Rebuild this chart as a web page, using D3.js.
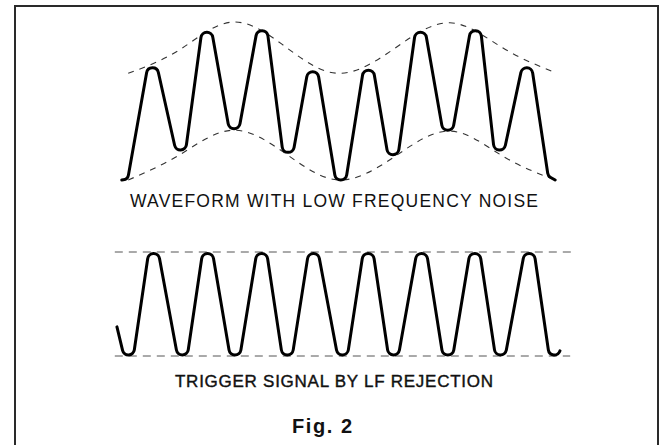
<!DOCTYPE html>
<html>
<head>
<meta charset="utf-8">
<script src="https://cdn.jsdelivr.net/npm/d3@7"></script>
<style>
  body { margin: 0; background: #fff; }
  svg { display: block; }
</style>
</head>
<body>
<div id="fig"></div>
<script>
// time in cycles of the signal, voltage normalised to the envelope

// top trace: waveform riding on low frequency noise (turning points)
var noisyT = [-0.06, 0.05, 0.50, 1.06, 1.51, 2.03, 2.57, 3.02, 3.50, 4.02, 4.53, 5.00, 5.49, 6.01, 6.55, 6.94, 7.50, 7.88, 8.01];
var noisyV = [-1.00, -0.99, 0.42, -0.62, 0.87, -0.35, 0.89, -0.65, 0.37, -1.00, 0.39, -0.68, 0.87, -0.37, 0.89, -0.62, 0.42, -0.95, -1.00];

// dashed envelope of the noisy trace
var envT     = [0.06, 1.02, 2.01, 3.02, 4.00, 5.03, 6.05, 7.04, 8.01];
var envUpper = [0.35, 0.65, 1.00, 0.67, 0.35, 0.67, 0.99, 0.67, 0.36];
var envLower = [-1.00, -0.68, -0.37, -0.68, -1.00, -0.70, -0.38, -0.70, -1.00];

// bottom trace: trigger signal after LF rejection
var cleanT = [-0.15, 0.09, 0.52, 1.08, 1.53, 2.05, 2.55, 3.02, 3.50, 4.06, 4.53, 4.99, 5.53, 6.01, 6.52, 6.98, 7.54, 7.95, 8.10];
var cleanV = [-0.44, -0.98, 0.97, -0.98, 0.97, -0.98, 0.97, -0.98, 0.97, -0.98, 0.97, -0.98, 0.97, -0.98, 0.97, -0.98, 0.97, -0.98, -0.90];

// dashed level lines of the clean trace
var levelV = [1, -1];
var levelT = [[-0.19, 8.38], [-0.19, 8.29]];

var labels = ["WAVEFORM WITH LOW FREQUENCY NOISE", "TRIGGER SIGNAL BY LF REJECTION"];
var caption = "Fig. 2";

var width = 661, height = 445;

var svg = d3.select("#fig")
  .append("svg")
  .attr("width", width)
  .attr("height", height);

svg.append("rect")
  .attr("width", width)
  .attr("height", height)
  .attr("fill", "#fff");

// frame, open at the bottom
svg.append("path")
  .attr("d", "M15,447V6H658V447")
  .attr("fill", "none")
  .attr("stroke", "#2a2a2a")
  .attr("stroke-width", 2);

var x = d3.scaleLinear().domain([0, 8]).range([125, 554.6]);
var yTop = d3.scaleLinear().domain([-1, 1]).range([180, 22]);
var yBot = d3.scaleLinear().domain([-1, 1]).range([356, 252]);

function zip(ts, vs) {
  return ts.map(function(t, i) { return [t, vs[i]]; });
}

// straight flanks with round tops: the corners are pushed out so
// that the arc of radius r just touches each turning point
function roundedWave(ts, vs, ys, r) {
  var pts = ts.map(function(t, i) { return [x(t), ys(vs[i])]; });
  var n = pts.length;
  var sgn = pts.map(function(p, i) {
    if (i == 0 || i == n - 1) return 0;
    if (p[1] <= pts[i-1][1] && p[1] <= pts[i+1][1]) return -1;
    if (p[1] >= pts[i-1][1] && p[1] >= pts[i+1][1]) return 1;
    return 0;
  });
  var e = pts.map(function() { return 0; });
  var V = pts;
  for (var k = 0; k < 40; k++) {
    V = pts.map(function(p, i) { return [p[0], p[1] + sgn[i] * e[i]]; });
    e = V.map(function(v, i) {
      if (!sgn[i]) return 0;
      var ax = V[i-1][0] - v[0], ay = V[i-1][1] - v[1],
          bx = V[i+1][0] - v[0], by = V[i+1][1] - v[1];
      var la = Math.hypot(ax, ay), lb = Math.hypot(bx, by);
      var ang = Math.acos((ax * bx + ay * by) / la / lb);
      var ux = ax / la + bx / lb, uy = ay / la + by / lb;
      var bisY = Math.abs(uy) / Math.hypot(ux, uy);
      return Math.max(0, Math.min(60, bisY * r / Math.sin(ang / 2) - r));
    });
  }
  var p = d3.path();
  p.moveTo(V[0][0], V[0][1]);
  for (var i = 1; i < n - 1; i++) p.arcTo(V[i][0], V[i][1], V[i+1][0], V[i+1][1], r);
  p.lineTo(V[n-1][0], V[n-1][1]);
  return p.toString();
}

var smooth = d3.line()
  .x(function(d) { return x(d[0]); })
  .y(function(d) { return yTop(d[1]); })
  .curve(d3.curveNatural);

// envelopes
[envUpper, envLower].forEach(function(env) {
  svg.append("path")
    .datum(zip(envT, env))
    .attr("d", smooth)
    .attr("fill", "none")
    .attr("stroke", "#333")
    .attr("stroke-width", 1.1)
    .attr("stroke-dasharray", "6,6");
});

svg.append("path")
  .attr("d", roundedWave(noisyT, noisyV, yTop, 6))
  .attr("fill", "none")
  .attr("stroke", "#000")
  .attr("stroke-width", 3)
  .attr("stroke-linejoin", "round")
  .attr("stroke-linecap", "round");

// level lines
svg.selectAll(".level")
  .data(levelV)
  .enter().append("line")
    .attr("class", "level")
    .attr("x1", function(d, i) { return x(levelT[i][0]); })
    .attr("x2", function(d, i) { return x(levelT[i][1]); })
    .attr("y1", function(d) { return yBot(d); })
    .attr("y2", function(d) { return yBot(d); })
    .attr("stroke", "#555")
    .attr("stroke-width", 1)
    .attr("stroke-dasharray", "8,6");

svg.append("path")
  .attr("d", roundedWave(cleanT, cleanV, yBot, 6))
  .attr("fill", "none")
  .attr("stroke", "#000")
  .attr("stroke-width", 3)
  .attr("stroke-linejoin", "round")
  .attr("stroke-linecap", "round");

svg.append("text")
  .attr("x", 130)
  .attr("y", 207)
  .attr("textLength", 408)
  .attr("lengthAdjust", "spacing")
  .style("font", "17.5px 'Liberation Sans', Arial, sans-serif")
  .style("fill", "#111")
  .text(labels[0]);

svg.append("text")
  .attr("x", 175)
  .attr("y", 387)
  .attr("textLength", 318)
  .attr("lengthAdjust", "spacing")
  .style("font", "17px 'Liberation Sans', Arial, sans-serif")
  .style("fill", "#111")
  .style("stroke", "#111")
  .style("stroke-width", 0.4)
  .text(labels[1]);

svg.append("text")
  .attr("x", 292)
  .attr("y", 433)
  .attr("textLength", 60)
  .attr("lengthAdjust", "spacing")
  .style("font", "bold 20px 'Liberation Sans', Arial, sans-serif")
  .style("fill", "#111")
  .text(caption);
</script>
</body>
</html>
